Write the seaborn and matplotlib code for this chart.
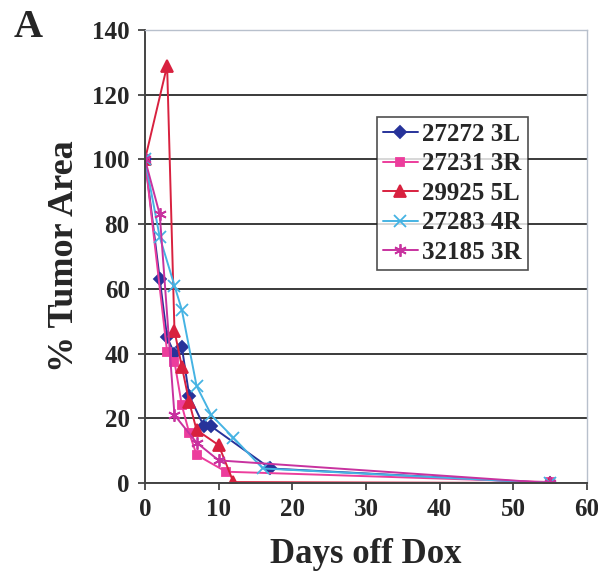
import matplotlib
matplotlib.use("Agg")
import matplotlib.pyplot as plt
import seaborn as sns
import pandas as pd

sns.set_theme(style="white")
plt.rcParams['font.family'] = ['Liberation Serif', 'DejaVu Serif']
plt.rcParams['font.weight'] = 'bold'

# ---- data ----
labels = ["27272 3L", "27231 3R", "29925 5L", "27283 4R", "32185 3R"]
days_27272 = [0, 2, 3, 4, 5, 6, 8, 9, 17, 55]
area_27272 = [100, 63, 45, 40, 42, 27, 17.5, 17.5, 4.5, 0]
days_27231 = [0, 3, 4, 5, 6, 7, 11, 55]
area_27231 = [100, 40.5, 37.5, 24, 15.5, 8.7, 3.5, 0.3]
days_29925 = [0, 3, 4, 5, 6, 7, 10, 12, 55]
area_29925 = [100, 129, 47, 36, 25, 16.4, 11.7, 0.3, 0]
days_27283 = [0, 2, 4, 5, 7, 9, 12, 16, 55]
area_27283 = [100, 76, 61, 53.5, 30, 21, 14, 4.5, 0]
days_32185 = [0, 2, 4, 7, 10, 55]
area_32185 = [100, 83, 21, 12.5, 7, 0]

xticks = [0, 10, 20, 30, 40, 50, 60]
yticks = [0, 20, 40, 60, 80, 100, 120, 140]

days = [days_27272, days_27231, days_29925, days_27283, days_32185]
areas = [area_27272, area_27231, area_29925, area_27283, area_32185]
colors = ["#27339a", "#ec3d9c", "#d8213f", "#45b3e3", "#c8329f"]
markers = ["D", "s", "^", "x", (6, 2, 0)]
msizes = [6, 6, 8, 8, 9]

fig = plt.figure(figsize=(5.98, 5.73), dpi=100)
ax = fig.add_axes([0.2425, 0.157, 0.7391, 0.7906])

for lab, d, a, c, m, ms in zip(labels, days, areas, colors, markers, msizes):
    df = pd.DataFrame({"Days": d, "Area": a})
    sns.lineplot(data=df, x="Days", y="Area", ax=ax, color=c, marker=m,
                 markersize=ms, markeredgecolor=c, markerfacecolor=c,
                 markeredgewidth=1.3, linewidth=1.4, label=lab,
                 estimator=None, sort=False)

ax.set_xlim(0, 60)
ax.set_ylim(0, 140)
ax.set_xticks(xticks)
ax.set_yticks(yticks)
ax.set_xticklabels([str(t) for t in xticks], fontsize=18, fontweight='bold')
ax.set_yticklabels([str(t) for t in yticks], fontsize=18, fontweight='bold')
ax.yaxis.grid(True, color="#3a3a3a", linewidth=1.4)
ax.xaxis.grid(False)
ax.set_axisbelow(True)
ax.tick_params(axis='both', direction='out', length=5, width=1.3,
               color="#444444", pad=6, bottom=True, left=True)
for s in ["left", "bottom"]:
    ax.spines[s].set_color("#444444")
    ax.spines[s].set_linewidth(1.4)
for s in ["top", "right"]:
    ax.spines[s].set_color("#b8c0cc")
    ax.spines[s].set_linewidth(1.0)

ax.set_xlabel("Days off Dox", fontsize=25, fontweight='bold', labelpad=12)
ax.set_ylabel("% Tumor Area", fontsize=26, fontweight='bold', labelpad=8)

leg = ax.legend(loc="upper left", bbox_to_anchor=(0.524, 0.809),
                borderaxespad=0, frameon=True, fancybox=False,
                handlelength=1.4, handletextpad=0.18, labelspacing=0.26,
                borderpad=0.25, prop={'weight': 'bold', 'size': 18})
leg.get_frame().set_edgecolor("#222222")
leg.get_frame().set_linewidth(1.2)

fig.text(0.022, 0.935, "A", fontsize=29, fontweight='bold')

fig.savefig("out.png", dpi=100, facecolor="white")
